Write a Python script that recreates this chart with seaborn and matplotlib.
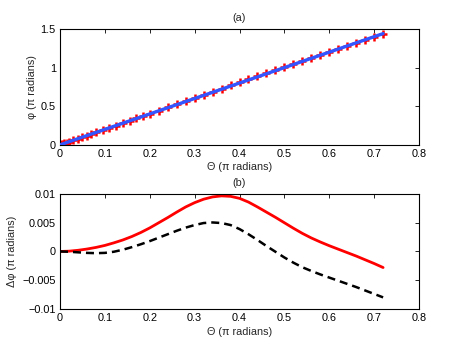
import matplotlib
matplotlib.use("Agg")
import matplotlib.pyplot as plt
import seaborn as sns

# (a) phase vs angle: measured points (red +) and straight fit (blue)
theta_pts = [0, 0.003, 0.006, 0.01, 0.015, 0.02, 0.03, 0.04, 0.05, 0.06, 0.07, 0.08,
             0.095, 0.11, 0.125, 0.14, 0.155, 0.17, 0.185, 0.2, 0.22, 0.24, 0.26, 0.28,
             0.3, 0.32, 0.34, 0.36, 0.38, 0.4, 0.42, 0.44, 0.46, 0.48, 0.5, 0.52, 0.54,
             0.56, 0.58, 0.6, 0.62, 0.64, 0.66, 0.68, 0.7, 0.72]
phi_pts = [0, 0.006, 0.012, 0.02, 0.03, 0.04, 0.06, 0.08, 0.1, 0.12, 0.14, 0.16,
           0.19, 0.22, 0.25, 0.282, 0.312, 0.343, 0.373, 0.404, 0.444, 0.485, 0.526, 0.567,
           0.608, 0.649, 0.689, 0.729, 0.769, 0.809, 0.849, 0.888, 0.927, 0.966, 1.005, 1.044, 1.083,
           1.122, 1.162, 1.201, 1.24, 1.28, 1.319, 1.359, 1.398, 1.437]
theta_fit = [0, 0.72]
phi_fit = [0, 1.44]

# (b) phase error curves (units of 1e-3 pi rad)
theta_b = [0, 0.02, 0.04, 0.06, 0.08, 0.1, 0.12, 0.14, 0.16, 0.18, 0.2, 0.22, 0.24,
           0.26, 0.28, 0.3, 0.32, 0.34, 0.36, 0.38, 0.4, 0.42, 0.44, 0.46, 0.48, 0.5,
           0.52, 0.54, 0.56, 0.58, 0.6, 0.62, 0.64, 0.66, 0.68, 0.7, 0.72]
dphi_red = [0, 0.05, 0.2, 0.42, 0.7, 1.05, 1.5, 2.0, 2.6, 3.3, 4.1, 5.0, 5.9,
            6.85, 7.75, 8.5, 9.1, 9.5, 9.68, 9.6, 9.25, 8.6, 7.75, 6.85, 5.95, 5.0,
            4.05, 3.15, 2.35, 1.65, 1.0, 0.4, -0.2, -0.8, -1.45, -2.1, -2.8]
dphi_black = [0, -0.05, -0.15, -0.25, -0.3, -0.25, -0.05, 0.3, 0.75, 1.25, 1.8, 2.4, 3.0,
              3.6, 4.15, 4.6, 4.95, 5.05, 4.95, 4.6, 3.9, 3.0, 2.0, 0.95, -0.05, -1.05,
              -1.95, -2.75, -3.4, -4.0, -4.55, -5.1, -5.65, -6.2, -6.8, -7.4, -8.0]
dphi_red = [v * 1e-3 for v in dphi_red]
dphi_black = [v * 1e-3 for v in dphi_black]

xticks = [0, 0.1, 0.2, 0.3, 0.4, 0.5, 0.6, 0.7, 0.8]
xticklabels = ["0", "0.1", "0.2", "0.3", "0.4", "0.5", "0.6", "0.7", "0.8"]
yticks_a = [0, 0.5, 1, 1.5]
yticklabels_a = ["0", "0.5", "1", "1.5"]
yticks_b = [-0.01, -0.005, 0, 0.005, 0.01]
yticklabels_b = ["\u22120.01", "\u22120.005", "0", "0.005", "0.01"]

sns.set_style("white")
plt.rcParams["font.family"] = ["Liberation Sans", "DejaVu Sans"]
plt.rcParams["font.size"] = 7.8
plt.rcParams["xtick.direction"] = "in"
plt.rcParams["ytick.direction"] = "in"

fig = plt.figure(figsize=(4.63, 3.49), dpi=100)
ax1 = fig.add_axes([0.1296, 0.585, 0.7754, 0.332])
ax2 = fig.add_axes([0.1296, 0.115, 0.7754, 0.329])

sns.scatterplot(x=theta_pts, y=phi_pts, ax=ax1, marker="+", s=38, color="#ff0000",
                linewidth=1.8, zorder=2, legend=False)
sns.lineplot(x=theta_fit, y=phi_fit, ax=ax1, color="#3355ff", linewidth=2.4, zorder=3)

sns.lineplot(x=theta_b, y=dphi_red, ax=ax2, color="#ff0000", linewidth=2.0)
sns.lineplot(x=theta_b, y=dphi_black, ax=ax2, color="black", linewidth=1.8)
ax2.lines[-1].set_dashes((3.2, 2.0))

for ax, yt, ytl, title in [(ax1, yticks_a, yticklabels_a, "(a)"),
                           (ax2, yticks_b, yticklabels_b, "(b)")]:
    ax.set_xlim(0, 0.8)
    ax.set_ylim(yt[0], yt[-1])
    ax.set_xticks(xticks)
    ax.set_xticklabels(xticklabels)
    ax.set_yticks(yt)
    ax.set_yticklabels(ytl)
    ax.tick_params(top=True, right=True, length=3, width=0.6, pad=3, labelsize=7.8, colors="black")
    for sp in ax.spines.values():
        sp.set_color("black")
        sp.set_linewidth(0.8)
    ax.set_title(title, fontsize=7.8, pad=6)
    ax.set_xlabel("\u0398 (\u03c0 radians)", fontsize=7.8)

ax1.set_ylabel("\u03c6 (\u03c0 radians)", fontsize=7.8)
ax2.set_ylabel("\u0394\u03c6 (\u03c0 radians)", fontsize=7.8)
ax1.yaxis.set_label_coords(-0.064, 0.5)
ax2.yaxis.set_label_coords(-0.12, 0.5)
ax1.xaxis.set_label_coords(0.5, -0.145)
ax2.xaxis.set_label_coords(0.5, -0.155)

fig.savefig("out.png", dpi=100)
